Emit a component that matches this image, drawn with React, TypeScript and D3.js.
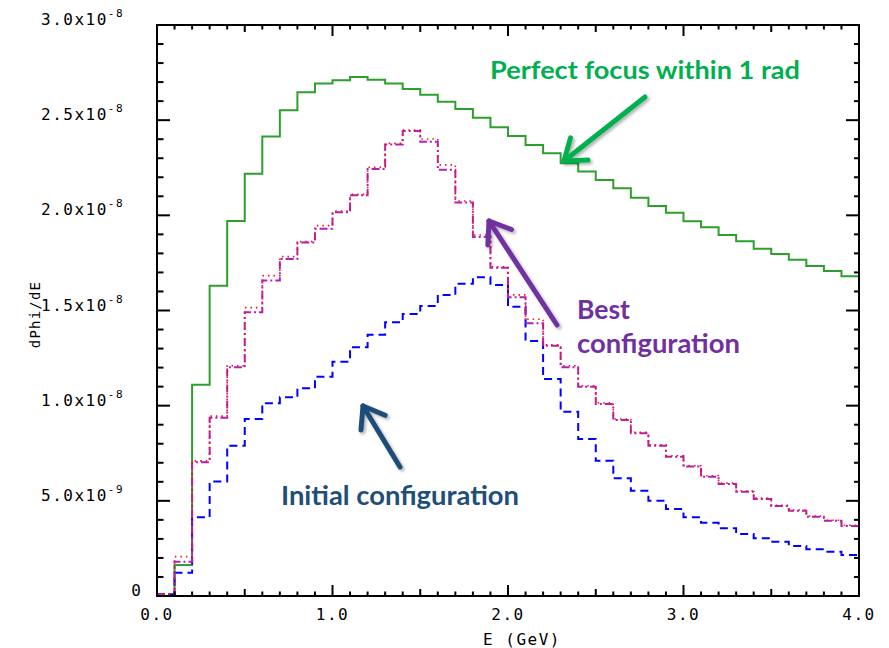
import React, { useEffect, useRef } from "react";
import * as d3 from "d3";

// bin lower edges (GeV), bins are 0.1 GeV wide, last bin ends at 4.0
const binStart = [
  0.0, 0.1, 0.2, 0.3, 0.4, 0.5, 0.6, 0.7, 0.8, 0.9,
  1.0, 1.1, 1.2, 1.3, 1.4, 1.5, 1.6, 1.7, 1.8, 1.9,
  2.0, 2.1, 2.2, 2.3, 2.4, 2.5, 2.6, 2.7, 2.8, 2.9,
  3.0, 3.1, 3.2, 3.3, 3.4, 3.5, 3.6, 3.7, 3.8, 3.9,
];
const binEnd = 4.0;

// dPhi/dE in units of 1e-8
const perfectFocus = [
  0.0, 0.163, 1.11, 1.63, 1.97, 2.218, 2.414, 2.552, 2.647, 2.692,
  2.71, 2.727, 2.713, 2.692, 2.664, 2.633, 2.597, 2.559, 2.513, 2.463,
  2.417, 2.37, 2.326, 2.274, 2.23, 2.186, 2.142, 2.093, 2.049, 2.014,
  1.969, 1.937, 1.897, 1.864, 1.825, 1.797, 1.766, 1.734, 1.708, 1.68,
];
const bestDotted = [
  0.012, 0.207, 0.71, 0.945, 1.21, 1.515, 1.683, 1.783, 1.862, 1.946,
  2.023, 2.11, 2.253, 2.378, 2.448, 2.401, 2.265, 2.075, 1.897, 1.73,
  1.582, 1.454, 1.32, 1.21, 1.105, 1.015, 0.93, 0.86, 0.795, 0.737,
  0.684, 0.632, 0.593, 0.552, 0.514, 0.477, 0.452, 0.42, 0.398, 0.372,
];
const bestDashDot = [
  0.009, 0.18, 0.703, 0.937, 1.202, 1.491, 1.657, 1.771, 1.857, 1.929,
  2.016, 2.105, 2.244, 2.372, 2.443, 2.386, 2.239, 2.067, 1.886, 1.725,
  1.57, 1.433, 1.315, 1.202, 1.1, 1.009, 0.925, 0.855, 0.79, 0.732,
  0.68, 0.627, 0.589, 0.548, 0.51, 0.473, 0.448, 0.416, 0.395, 0.368,
];
const initialConfig = [
  0.009, 0.122, 0.414, 0.601, 0.79, 0.93, 1.013, 1.044, 1.091, 1.152,
  1.231, 1.307, 1.372, 1.438, 1.482, 1.524, 1.582, 1.64, 1.675, 1.634,
  1.52, 1.34, 1.14, 0.968, 0.825, 0.711, 0.618, 0.553, 0.501, 0.457,
  0.414, 0.385, 0.356, 0.326, 0.303, 0.285, 0.263, 0.245, 0.233, 0.215,
];

const xTickValues = [0, 1, 2, 3, 4];
const xTickLabels = ["0.0", "1.0", "2.0", "3.0", "4.0"];
const yTickValues = [0, 0.5, 1.0, 1.5, 2.0, 2.5, 3.0];
const yTickMantissa = ["0", "5.0x10", "1.0x10", "1.5x10", "2.0x10", "2.5x10", "3.0x10"];
const yTickExponent = ["", "-9", "-8", "-8", "-8", "-8", "-8"];

const W = 889;
const H = 648;
const margin = { top: 25, right: 30, bottom: 52, left: 157 };
const tickFont = "'DejaVu Sans Mono', monospace";
const noteFont = "Lato, 'Open Sans', sans-serif";

export default function App() {
  const ref = useRef<SVGSVGElement>(null);

  useEffect(() => {
    const svg = d3.select(ref.current);
    svg.selectAll("*").remove();

    const x = d3.scaleLinear().domain([0, 4]).range([margin.left, W - margin.right]);
    const y = d3.scaleLinear().domain([0, 3]).range([H - margin.bottom, margin.top]);

    const defs = svg.append("defs");
    const f = defs.append("filter").attr("id", "shadow").attr("x", "-20%").attr("y", "-20%").attr("width", "140%").attr("height", "140%");
    f.append("feDropShadow").attr("dx", 2).attr("dy", 2).attr("stdDeviation", 1.5).attr("flood-color", "#000").attr("flood-opacity", 0.3);

    const step = d3
      .line<[number, number]>()
      .x((d) => x(d[0]))
      .y((d) => y(d[1]))
      .curve(d3.curveStepAfter);

    const pts = (vals: number[]): [number, number][] => {
      const p = binStart.map((b, i) => [b, vals[i]] as [number, number]);
      p.push([binEnd, vals[vals.length - 1]]);
      return p;
    };

    const plot = svg.append("g");
    plot.append("path").attr("d", step(pts(perfectFocus))).attr("fill", "none")
      .attr("stroke", "#2ca02c").attr("stroke-width", 2);
    plot.append("path").attr("d", step(pts(initialConfig))).attr("fill", "none")
      .attr("stroke", "#0000ff").attr("stroke-width", 2).attr("stroke-dasharray", "8,5");
    plot.append("path").attr("d", step(pts(bestDashDot))).attr("fill", "none")
      .attr("stroke", "#b321b3").attr("stroke-width", 2).attr("stroke-dasharray", "8,3,2,3");
    plot.append("path").attr("d", step(pts(bestDotted))).attr("fill", "none")
      .attr("stroke", "#ff1010").attr("stroke-width", 1.6).attr("stroke-dasharray", "1.5,4");

    // frame
    const axis = svg.append("g").attr("stroke", "#000");
    axis.append("rect")
      .attr("x", x(0)).attr("y", y(3))
      .attr("width", x(4) - x(0)).attr("height", y(0) - y(3))
      .attr("fill", "none").attr("stroke-width", 2);

    const xt = x.ticks(40);
    xt.forEach((t, i) => {
      const len = i % 10 === 0 ? 11 : i % 5 === 0 ? 7 : 4.5;
      axis.append("line").attr("x1", x(t)).attr("x2", x(t)).attr("y1", y(0)).attr("y2", y(0) - len).attr("stroke-width", 2);
      axis.append("line").attr("x1", x(t)).attr("x2", x(t)).attr("y1", y(3)).attr("y2", y(3) + len).attr("stroke-width", 2);
    });
    const yt = y.ticks(30);
    yt.forEach((t, i) => {
      const major = i % 5 === 0;
      axis.append("line").attr("x1", x(0)).attr("x2", x(0) + (major ? 13 : 6.5)).attr("y1", y(t)).attr("y2", y(t)).attr("stroke-width", 2);
      axis.append("line").attr("x1", x(4)).attr("x2", x(4) - (major ? 13 : 5)).attr("y1", y(t)).attr("y2", y(t)).attr("stroke-width", 2);
    });

    // tick labels
    const labels = svg.append("g").attr("font-family", tickFont).attr("fill", "#000");
    xTickValues.forEach((v, i) => {
      labels.append("text").attr("x", x(v)).attr("y", 620).attr("text-anchor", "middle")
        .attr("font-size", 16).attr("letter-spacing", 1.5).text(xTickLabels[i]);
    });
    yTickValues.forEach((v, i) => {
      if (yTickExponent[i] === "") {
        labels.append("text").attr("x", 141).attr("y", y(v)).attr("text-anchor", "end")
          .attr("font-size", 16).text(yTickMantissa[i]);
        return;
      }
      const t = labels.append("text").attr("x", 41).attr("y", y(v))
        .attr("font-size", 16).attr("letter-spacing", 1.5);
      t.append("tspan").text(yTickMantissa[i]);
      t.append("tspan").attr("font-size", 11).attr("dy", -8).attr("letter-spacing", 1.5).text(yTickExponent[i]);
    });

    labels.append("text").attr("x", 522).attr("y", 645).attr("text-anchor", "middle")
      .attr("font-size", 16).attr("letter-spacing", 1.5).text("E (GeV)");
    labels.append("text")
      .attr("transform", `translate(40,${(y(0) + y(3)) / 2 + 4}) rotate(-90)`)
      .attr("text-anchor", "middle").attr("font-size", 14).attr("letter-spacing", 1.2).text("dPhi/dE");

    // annotations
    const arrow = (x1: number, y1: number, x2: number, y2: number, color: string) => {
      const a = Math.atan2(y2 - y1, x2 - x1);
      const L = 24;
      const sp = (36 * Math.PI) / 180;
      const g = svg.append("g").attr("filter", "url(#shadow)").attr("stroke", color)
        .attr("stroke-width", 5).attr("fill", "none").attr("stroke-linecap", "round").attr("stroke-linejoin", "round");
      g.append("line").attr("x1", x1).attr("y1", y1).attr("x2", x2).attr("y2", y2);
      g.append("polyline").attr("points", [
        [x2 - L * Math.cos(a - sp), y2 - L * Math.sin(a - sp)],
        [x2, y2],
        [x2 - L * Math.cos(a + sp), y2 - L * Math.sin(a + sp)],
      ].map((p) => p.join(",")).join(" "));
    };
    arrow(645, 97, 564, 161, "#00b050");
    arrow(557, 325, 489, 221, "#7030a0");
    arrow(400, 467, 363, 406, "#1f4e79");

    const note = (tx: number, ty: number, len: number, s: string, color: string, size: number) => {
      svg.append("text").attr("x", tx).attr("y", ty).attr("font-family", noteFont).attr("font-weight", 700)
        .attr("font-size", size).attr("fill", color).attr("textLength", len).attr("lengthAdjust", "spacingAndGlyphs").text(s);
    };
    note(490, 79, 310, "Perfect focus within 1 rad", "#00b050", 25);
    note(577, 319, 53, "Best", "#7030a0", 27);
    note(577, 353, 163, "configuration", "#7030a0", 27);
    note(281, 505, 238, "Initial configuration", "#1f4e79", 27);
  }, []);

  return (
    <svg
      ref={ref}
      width={W}
      height={H}
      style={{ position: "absolute", left: 0, top: 0, background: "#fff" }}
    />
  );
}
